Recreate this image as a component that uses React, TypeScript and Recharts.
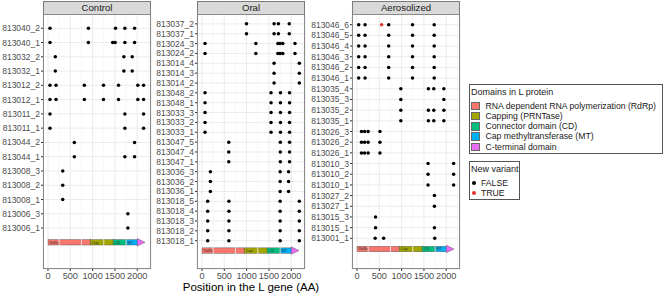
import React from 'react';
import {
  ComposedChart,
  Scatter,
  XAxis,
  YAxis,
  CartesianGrid,
  ReferenceArea,
  ReferenceLine,
} from 'recharts';

const FONT = '"Liberation Sans", Arial, Helvetica, sans-serif';

// ---------- data ----------
const controlSamples = [
  '813040_2', '813040_1', '813032_2', '813032_1', '813012_2', '813012_1',
  '813011_2', '813011_1', '813044_2', '813044_1', '813008_3', '813008_2',
  '813008_1', '813006_3', '813006_1',
];
const controlPositions: number[][] = [
  [45, 905, 1513, 1722, 1940],
  [45, 905, 1450, 1505, 1722, 1940],
  [164, 1700, 1887],
  [164, 1700, 1887],
  [45, 180, 815, 1243, 1580, 2013, 2142],
  [45, 180, 815, 1243, 1580, 2013, 2142],
  [45, 1722, 2142],
  [45, 1722, 2142],
  [590, 1940],
  [590, 1722, 1940],
  [330],
  [330],
  [330],
  [1790],
  [1790],
];

const oralSamples = [
  '813037_2', '813037_1', '813024_3', '813024_2', '813014_4', '813014_3',
  '813014_2', '813048_2', '813048_1', '813033_3', '813033_2', '813033_1',
  '813047_5', '813047_4', '813047_1', '813036_3', '813036_2', '813036_1',
  '813018_5', '813018_4', '813018_3', '813018_2', '813018_1',
];
const oralPositions: number[][] = [
  [997, 1615, 1712, 1955],
  [997, 1615, 1712, 1955],
  [68, 1207, 1700, 1750, 1810, 2084],
  [68, 1207, 1700, 1750, 1810, 2084],
  [1615, 2181],
  [1615, 2181],
  [1615, 2181],
  [68, 1547, 1758, 1962],
  [68, 1547, 1758, 1962],
  [68, 1547, 1758, 1962],
  [68, 1547, 1758, 1962],
  [68, 1547, 1758, 1962],
  [600, 1755, 1962],
  [600, 1755, 1962],
  [600, 1755, 1962],
  [188, 1751, 1940],
  [188, 1751, 1940],
  [188, 1751, 1940],
  [128, 603, 1751, 2181],
  [128, 603, 1751, 2181],
  [128, 603, 1751, 2181],
  [128, 603, 1751, 2181],
  [128, 603, 1751, 2181],
];

const aeroSamples = [
  '813046_6', '813046_5', '813046_4', '813046_3', '813046_2', '813046_1',
  '813035_4', '813035_3', '813035_2', '813035_1', '813026_3', '813026_2',
  '813026_1', '813010_3', '813010_2', '813010_1', '813027_2', '813027_1',
  '813015_3', '813015_1', '813001_1',
];
const aeroPositions: number[][] = [
  [38, 181, 710, 1244, 1729],
  [38, 181, 710, 1244, 1729],
  [38, 181, 710, 1244, 1729],
  [38, 181, 710, 1244, 1729],
  [38, 181, 710, 1244, 1729],
  [38, 181, 710, 1244, 1729],
  [982, 1600, 1720, 1946],
  [982, 1946],
  [982, 1600, 1720, 1946],
  [982, 1600, 1720, 1946],
  [100, 170, 250, 514],
  [100, 170, 250, 514],
  [100, 170, 250, 514],
  [1593, 2165],
  [1593, 2165],
  [1593, 2165],
  [1735],
  [1735],
  [416],
  [416, 1735],
  [407, 597, 1742],
];

const newVariants = [{ group: 'Aerosolized', sample: '813046_6', position: 552 }];

const domainNames = [
  'RNA dependent RNA polymerization (RdRp)',
  'Capping (PRNTase)',
  'Connector domain (CD)',
  'Cap methyltransferase (MT)',
  'C-terminal domain',
];
const domainShort = ['RdRp', 'Cap', 'CD', 'MT', ''];
const domainStarts = [1, 945, 1460, 1750, 2000];
const domainEnds = [945, 1460, 1750, 2000, 2175];
const domainColors = ['#F8766D', '#A3A500', '#00BF7D', '#00B0F6', '#E76BF3'];

const variantLabels = ['FALSE', 'TRUE'];
const variantColors = ['#000000', '#E8302A'];

const xTicks = [0, 500, 1000, 1500, 2000];
const xMinor = [250, 750, 1250, 1750, 2250];
const xDomain: [number, number] = [-112, 2308];

// ---------- layout ----------
const TOP = 14;
const BOTTOM = 269;
const H = 295;

const makeDomainShape = (idx: number) => (props: any) => {
  const { x, y, width, height } = props;
  const cy = y + height / 2;
  const h = 5.4;
  if (idx === domainNames.length - 1) {
    const ah = 7.6;
    return (
      <polygon
        points={`${x},${cy - ah / 2} ${x + width},${cy} ${x},${cy + ah / 2}`}
        fill={domainColors[idx]}
        stroke="#444"
        strokeWidth={0.4}
      />
    );
  }
  return (
    <g>
      <rect x={x} y={cy - h / 2} width={width} height={h} fill={domainColors[idx]} stroke="#444" strokeWidth={0.4} />
      <text x={x + 1.5} y={cy + 1.3} fontSize={3.8} fill="#333" fontFamily={FONT}>
        {domainShort[idx]}
      </text>
    </g>
  );
};

const blackDot = (p: any) => <circle cx={p.cx} cy={p.cy} r={1.75} fill={variantColors[0]} />;
const redDot = (p: any) => <circle cx={p.cx} cy={p.cy} r={1.75} fill={variantColors[1]} />;

type PanelProps = {
  title: string;
  samples: string[];
  positions: number[][];
  chartLeft: number;
  plotLeft: number;
  plotRight: number;
};

function Panel({ title, samples, positions, chartLeft, plotLeft, plotRight }: PanelProps) {
  const n = samples.length;
  const rowOf = (i: number) => n + 2 - i;
  const pts: { x: number; y: number }[] = [];
  samples.forEach((_, i) => positions[i].forEach((p) => pts.push({ x: p, y: rowOf(i) })));
  const redPts = newVariants
    .filter((v) => v.group === title)
    .map((v) => ({ x: v.position, y: rowOf(samples.indexOf(v.sample)) }));
  const ticks = samples.map((_, i) => rowOf(i));
  const width = plotRight - chartLeft + 2;
  const yAxisW = plotLeft - chartLeft;

  return (
    <>
      <div style={{ position: 'absolute', left: chartLeft, top: 0 }}>
        <ComposedChart
          width={width}
          height={H}
          margin={{ top: TOP, right: 2, bottom: 0, left: 0 }}
        >
          <CartesianGrid stroke="#EBEBEB" strokeWidth={1} fill="none" />
          {xMinor.map((m) => (
            <ReferenceLine key={m} x={m} stroke="#F4F4F4" strokeWidth={0.8} ifOverflow="discard" />
          ))}
          <XAxis
            type="number"
            dataKey="x"
            domain={xDomain}
            ticks={xTicks}
            interval={0}
            allowDataOverflow
            axisLine={false}
            tickLine={{ stroke: '#333' }}
            tickSize={2}
            tickMargin={1}
            height={H - BOTTOM}
            tick={{ fontSize: 9.2, fill: '#4D4D4D', fontFamily: FONT }}
          />
          <YAxis
            type="number"
            dataKey="y"
            domain={[0.13, n + 3]}
            ticks={ticks}
            interval={0}
            allowDataOverflow
            axisLine={false}
            tickLine={{ stroke: '#333' }}
            tickSize={2}
            tickMargin={1}
            width={yAxisW}
            tickFormatter={(v: number) => samples[n + 2 - v] ?? ''}
            tick={{ fontSize: 8.5, fill: '#4D4D4D', fontFamily: FONT }}
          />
          {domainNames.map((d, i) => (
            <ReferenceArea
              key={d}
              x1={domainStarts[i]}
              x2={domainEnds[i]}
              y1={1.8}
              y2={2.2}
              ifOverflow="visible"
              shape={makeDomainShape(i)}
            />
          ))}
          <Scatter data={pts} shape={blackDot} isAnimationActive={false} />
          <Scatter data={redPts} shape={redDot} isAnimationActive={false} />
        </ComposedChart>
      </div>
      <div
        style={{
          position: 'absolute',
          left: plotLeft,
          top: 1,
          width: plotRight - plotLeft,
          height: TOP - 1,
          boxSizing: 'border-box',
          background: '#D9D9D9',
          border: '1px solid #7a7a7a',
          borderBottom: 'none',
          fontSize: 9.6,
          lineHeight: `${TOP - 2}px`,
          textAlign: 'center',
          color: '#1A1A1A',
        }}
      >
        {title}
      </div>
      <div
        style={{
          position: 'absolute',
          left: plotLeft,
          top: TOP,
          width: plotRight - plotLeft,
          height: BOTTOM - TOP,
          boxSizing: 'border-box',
          border: '1px solid #8a8a8a',
          pointerEvents: 'none',
        }}
      />
    </>
  );
}

export default function App() {
  return (
    <div
      style={{
        position: 'absolute',
        left: 0,
        top: 0,
        width: 666,
        height: 295,
        background: '#fff',
        fontFamily: FONT,
        overflow: 'hidden',
      }}
    >
      <Panel title="Control" samples={controlSamples} positions={controlPositions} chartLeft={0} plotLeft={43} plotRight={151} />
      <Panel title="Oral" samples={oralSamples} positions={oralPositions} chartLeft={153} plotLeft={197} plotRight={305} />
      <Panel title="Aerosolized" samples={aeroSamples} positions={aeroPositions} chartLeft={307} plotLeft={352} plotRight={460} />

      <div
        style={{
          position: 'absolute',
          left: 151,
          top: 280,
          width: 200,
          textAlign: 'center',
          fontSize: 11.5,
          lineHeight: '14px',
          color: '#000',
        }}
      >
        Position in the L gene (AA)
      </div>

      {/* Domains legend */}
      <div
        style={{
          position: 'absolute',
          left: 469,
          top: 84,
          width: 194,
          height: 70,
          boxSizing: 'border-box',
          border: '1px solid #555',
          color: '#1A1A1A',
        }}
      >
        <div style={{ position: 'absolute', left: 1, top: 2, fontSize: 9, lineHeight: '11px', whiteSpace: 'nowrap' }}>
          Domains in L protein
        </div>
        {domainNames.map((d, i) => (
          <div key={d} style={{ position: 'absolute', left: 0, top: 16 + i * 10.25, height: 9.5, whiteSpace: 'nowrap' }}>
            <div
              style={{
                position: 'absolute',
                left: 1,
                top: 0.5,
                width: 8.5,
                height: 8.5,
                boxSizing: 'border-box',
                background: domainColors[i],
                border: '0.5px solid #666',
              }}
            />
            <div style={{ position: 'absolute', left: 15.5, top: -0.5, fontSize: 8.7, lineHeight: '10px' }}>{d}</div>
          </div>
        ))}
      </div>

      {/* New variant legend */}
      <div
        style={{
          position: 'absolute',
          left: 469,
          top: 161,
          width: 51,
          height: 39,
          boxSizing: 'border-box',
          border: '1px solid #555',
          color: '#1A1A1A',
        }}
      >
        <div style={{ position: 'absolute', left: 1, top: 2, fontSize: 9, lineHeight: '11px', whiteSpace: 'nowrap' }}>
          New variant
        </div>
        {variantLabels.map((l, i) => (
          <div key={l} style={{ position: 'absolute', left: 0, top: 16 + i * 10.4, height: 10, whiteSpace: 'nowrap' }}>
            <div
              style={{
                position: 'absolute',
                left: 2.3,
                top: 3,
                width: 4,
                height: 4,
                borderRadius: '50%',
                background: variantColors[i],
              }}
            />
            <div style={{ position: 'absolute', left: 11, top: 0, fontSize: 8.7, lineHeight: '10px' }}>{l}</div>
          </div>
        ))}
      </div>
    </div>
  );
}
